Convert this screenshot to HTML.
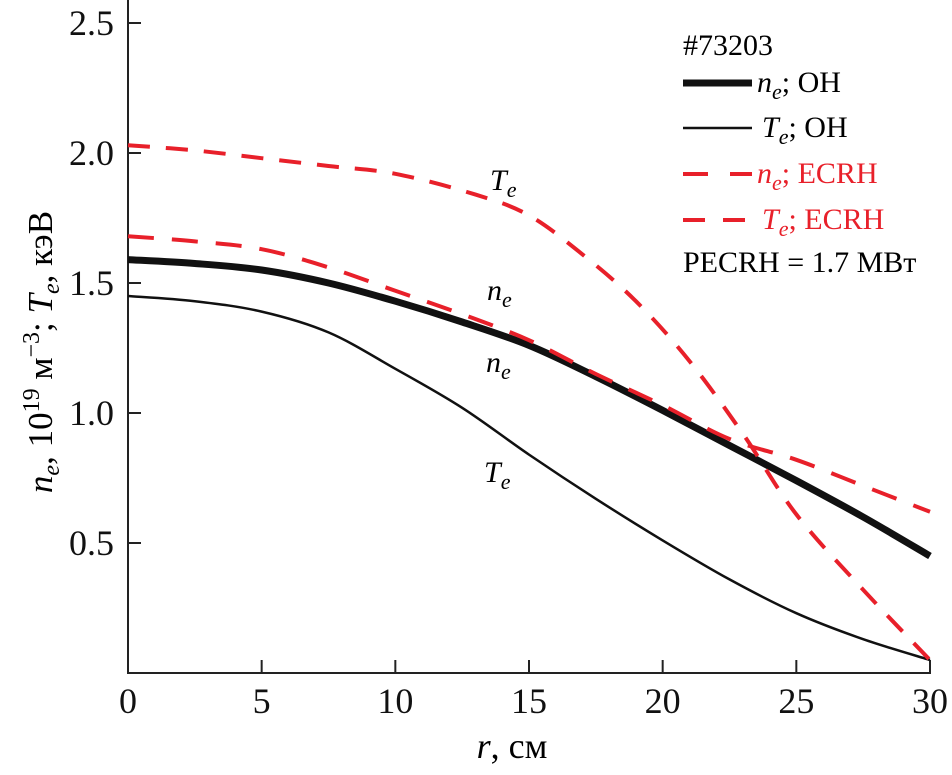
<!DOCTYPE html>
<html><head><meta charset="utf-8"><style>
body{margin:0;background:#fff}
svg text{font-family:"Liberation Serif",serif}
</style></head><body>
<svg id="c" width="952" height="770" xmlns="http://www.w3.org/2000/svg">
<g id="axes"></g><g id="series"></g>
<text x="490" y="190" font-size="30" font-style="italic">T<tspan font-size="22" dy="7">e</tspan></text>
<text x="487" y="300" font-size="30" font-style="italic">n<tspan font-size="22" dy="7">e</tspan></text>
<text x="486" y="372" font-size="30" font-style="italic">n<tspan font-size="22" dy="7">e</tspan></text>
<text x="484" y="482" font-size="30" font-style="italic">T<tspan font-size="22" dy="7">e</tspan></text>
<text x="512" y="758" font-size="36" text-anchor="middle"><tspan font-style="italic">r</tspan>, см</text>
<text transform="translate(52,352) rotate(-90)" font-size="35" text-anchor="middle"><tspan font-style="italic">n</tspan><tspan font-style="italic" font-size="24" dy="7">e</tspan><tspan dy="-7">, 10</tspan><tspan font-size="24" dy="-13">19</tspan><tspan dy="13"> м</tspan><tspan font-size="24" dy="-13">−3</tspan><tspan dy="13">; </tspan><tspan font-style="italic">T</tspan><tspan font-style="italic" font-size="24" dy="7">e</tspan><tspan dy="-7">, кэВ</tspan></text>
<g>
<text x="683" y="55" font-size="30">#73203</text>
<line x1="683" y1="83" x2="752" y2="83" stroke="#111" stroke-width="7"/>
<text x="757" y="92" font-size="30"><tspan font-style="italic">n<tspan font-size="22" dy="7">e</tspan></tspan><tspan dy="-7">; OH</tspan></text>
<line x1="683" y1="128" x2="752" y2="128" stroke="#111" stroke-width="2.5"/>
<text x="762" y="137" font-size="30"><tspan font-style="italic">T<tspan font-size="22" dy="7">e</tspan></tspan><tspan dy="-7">; OH</tspan></text>
<line x1="683" y1="174" x2="752" y2="174" stroke="#e8202a" stroke-width="4" stroke-dasharray="25,22"/>
<text x="757" y="183" font-size="30" fill="#e8202a"><tspan font-style="italic">n<tspan font-size="22" dy="7">e</tspan></tspan><tspan dy="-7">; ECRH</tspan></text>
<line x1="683" y1="220" x2="752" y2="220" stroke="#e8202a" stroke-width="4" stroke-dasharray="22,18"/>
<text x="762" y="229" font-size="30" fill="#e8202a"><tspan font-style="italic">T<tspan font-size="22" dy="7">e</tspan></tspan><tspan dy="-7">; ECRH</tspan></text>
<text x="683" y="272" font-size="30">PECRH = 1.7 МВт</text>
</g>
</svg>
<script>
const xTicks=[0,5,10,15,20,25,30];
const yTicks=[0.5,1.0,1.5,2.0,2.5];
const yTickLabels=["0.5","1.0","1.5","2.0","2.5"];
const rOH=[0,2.5,5,7.5,10,12.5,15,17.5,20,22.5,25,27.5,30];
const neOH=[1.59,1.575,1.55,1.50,1.43,1.35,1.26,1.14,1.01,0.875,0.74,0.6,0.45];
const teOH=[1.45,1.43,1.39,1.31,1.17,1.02,0.84,0.67,0.51,0.36,0.23,0.13,0.05];
const rNeE=[0,2.5,5,7.5,10,12.5,15,17.5,20,22.5,25,27.5,30];
const neECRH=[1.68,1.66,1.63,1.56,1.47,1.38,1.28,1.15,1.03,0.90,0.82,0.72,0.62];
const rTeE=[0,2.5,5,7.5,10,13,15,17,19,21,23,25,27.5,30];
const teECRH=[2.03,2.01,1.98,1.95,1.92,1.84,1.76,1.61,1.43,1.20,0.92,0.61,0.32,0.05];
const X=v=>128+v*(930-128)/30, Y=v=>673-v*260;
const NS="http://www.w3.org/2000/svg";
const ax=document.getElementById('axes'), se=document.getElementById('series');
function mk(t,a,p){const e=document.createElementNS(NS,t);for(const k in a)e.setAttribute(k,a[k]);p.appendChild(e);return e;}
const yl=mk('line',{x1:128,y1:0,x2:128,y2:674,stroke:'#222','stroke-width':2},ax);


const xl=mk('line',{x1:127,y1:673,x2:931,y2:673,stroke:'#222','stroke-width':2},ax);


xTicks.forEach(v=>{
  const t=mk('line',{x1:X(v),y1:673,x2:X(v),y2:660,stroke:'#222','stroke-width':2},ax);
  
  
  const l=mk('text',{x:X(v),y:713,'font-size':36,'text-anchor':'middle',fill:'#111'},ax);
  l.textContent=v;
  
  
});
yTicks.forEach((v,i)=>{
  const t=mk('line',{x1:128,y1:Y(v),x2:141,y2:Y(v),stroke:'#222','stroke-width':2},ax);
  
  
  const l=mk('text',{x:114,y:Y(v)+12,'font-size':36,'text-anchor':'end',fill:'#111'},ax);
  l.textContent=yTickLabels[i];
  
  
});
function line(xs,ys,st,name){
  const P=xs.map((x,i)=>[X(x),Y(ys[i])]);
  let d='M'+P[0][0]+','+P[0][1];
  for(let i=0;i<P.length-1;i++){
    const p0=P[Math.max(0,i-1)],p1=P[i],p2=P[i+1],p3=P[Math.min(P.length-1,i+2)];
    const c1=[p1[0]+(p2[0]-p0[0])/6,p1[1]+(p2[1]-p0[1])/6];
    const c2=[p2[0]-(p3[0]-p1[0])/6,p2[1]-(p3[1]-p1[1])/6];
    d+=' C'+c1+' '+c2+' '+p2;
  }
  const p=mk('path',Object.assign({d:d,fill:'none','stroke-linejoin':'round'},st),se);
  
  
}
line(rOH,neOH,{stroke:'#111','stroke-width':7},'ne-oh-line');
line(rOH,teOH,{stroke:'#111','stroke-width':2.5},'te-oh-line');
line(rNeE,neECRH,{stroke:'#e8202a','stroke-width':4,'stroke-dasharray':'26,18'},'ne-ecrh-line');
line(rTeE,teECRH,{stroke:'#e8202a','stroke-width':4,'stroke-dasharray':'22,16'},'te-ecrh-line');
</script>
</body></html>
